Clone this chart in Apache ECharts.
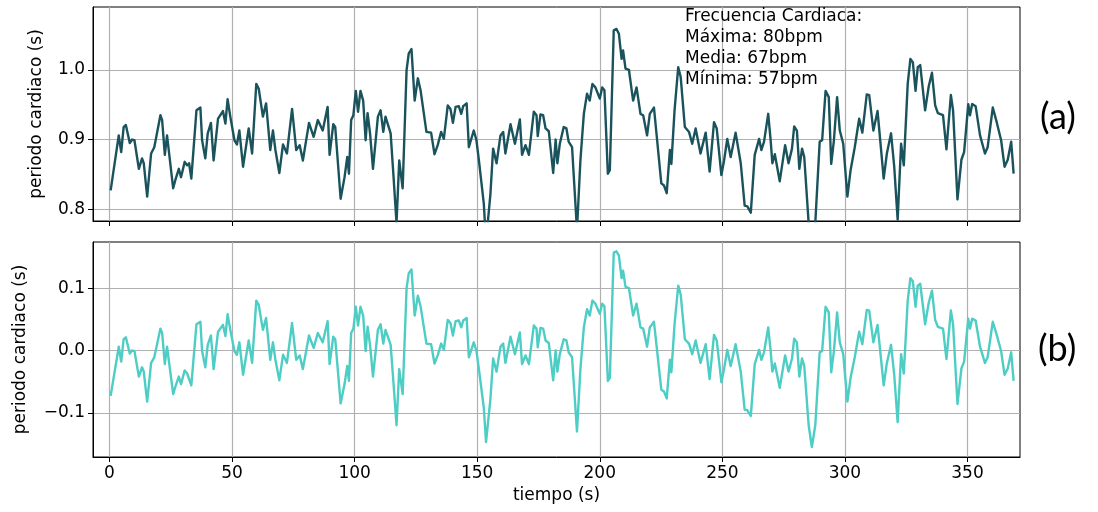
<!DOCTYPE html>
<html>
<head>
<meta charset="utf-8">
<script src="https://cdn.jsdelivr.net/npm/echarts@6/dist/echarts.min.js"></script>
<style>
  html, body { margin: 0; padding: 0; background: #fff; }
  #chart { width: 1098px; height: 512px; }
</style>
</head>
<body>
<div id="chart"></div>
<script>
// Tiempo de cada latido (s)
const tiempo = [
  0.5, 3.8, 4.8, 5.8, 6.7, 8.3, 9.2, 10.2, 12.0, 13.3, 14.0, 15.4, 16.0, 17.0, 18.3,
  20.8, 21.5, 22.6, 23.5, 24.2, 26.0, 26.9, 28.3, 29.2, 30.7, 31.7, 32.5, 33.4, 35.5,
  37.1, 37.8, 39.1, 40.1, 41.4, 42.5, 44.3, 46.3, 47.3, 48.2, 49.3, 51.0, 52.0, 53.0,
  54.5, 56.8, 58.2, 59.9, 60.9, 62.6, 63.9, 65.6, 66.7, 67.7, 69.3, 70.8, 72.4, 74.5,
  76.2, 77.6, 78.9, 81.4, 83.3, 85.0, 87.0, 89.0, 89.8, 91.3, 92.1, 94.3, 95.9, 97.0,
  97.7, 98.6, 99.5, 100.5, 101.4, 102.4, 103.5, 104.5, 105.3, 106.3, 107.5, 108.2,
  109.5, 110.6, 111.7, 112.6, 114.7, 115.8, 117.1, 118.2, 118.8, 119.6, 121.2, 122.1,
  123.2, 124.5, 125.8, 126.9, 129.3, 131.2, 132.6, 133.9, 135.3, 136.4, 138.0, 139.1,
  140.1, 141.2, 142.5, 143.5, 144.3, 145.7, 146.6, 148.6, 149.7, 150.7, 152.7, 153.6,
  155.4, 156.5, 157.9, 159.5, 160.6, 161.5, 163.6, 165.4, 167.4, 168.3, 169.7, 171.1,
  173.1, 174.2, 174.7, 175.8, 176.9, 177.9, 179.2, 181.0, 182.0, 182.7, 183.7, 185.3,
  186.4, 187.3, 188.7, 190.7, 192.1, 193.5, 194.8, 195.9, 197.0, 198.2, 200.0, 201.0,
  201.9, 203.3, 204.1, 205.7, 206.8, 207.8, 208.9, 209.5, 210.5, 211.9, 213.6, 215.0,
  216.6, 217.7, 219.3, 220.4, 222.1, 223.4, 225.1, 226.2, 227.3, 228.6, 229.2, 230.5,
  232.0, 233.0, 234.7, 236.4, 237.7, 239.1, 241.1, 243.2, 244.8, 246.6, 247.7, 249.6,
  250.7, 252.0, 253.4, 255.4, 257.5, 259.1, 260.2, 261.6, 263.2, 265.0, 265.9, 267.0,
  268.7, 269.7, 270.4, 271.4, 273.4, 275.6, 277.0, 278.4, 279.3, 280.4, 281.4, 282.5,
  283.4, 285.2, 286.5, 287.9, 289.7, 290.7, 292.1, 293.4, 294.4, 295.5, 296.8, 297.9,
  299.3, 301.0, 302.3, 304.0, 305.8, 307.1, 308.9, 309.9, 311.6, 313.3, 314.7, 315.8,
  317.1, 318.8, 320.1, 321.5, 322.9, 324.0, 325.6, 326.7, 327.7, 328.8, 329.7, 330.7,
  332.7, 334.2, 335.5, 336.8, 337.9, 340.0, 341.4, 343.2, 344.1, 345.9, 347.5, 348.6,
  350.3, 351.0, 351.9, 353.3, 355.1, 357.1, 358.2, 360.3, 361.9, 363.7, 365.1, 366.4,
  367.8, 368.8
];

// Periodo cardiaco de cada latido (s)
const periodo = [
  0.827, 0.906, 0.882, 0.918, 0.921, 0.895, 0.900, 0.899, 0.858, 0.873, 0.866, 0.818, 0.820, 0.880, 0.889,
  0.935, 0.928, 0.878, 0.906, 0.904, 0.830, 0.842, 0.858, 0.846, 0.868, 0.863, 0.866, 0.844, 0.942,
  0.946, 0.899, 0.873, 0.909, 0.924, 0.870, 0.930, 0.941, 0.923, 0.958, 0.933, 0.899, 0.893, 0.913,
  0.861, 0.916, 0.880, 0.980, 0.973, 0.933, 0.952, 0.885, 0.913, 0.885, 0.852, 0.893, 0.880, 0.944,
  0.885, 0.892, 0.870, 0.924, 0.904, 0.928, 0.913, 0.947, 0.878, 0.922, 0.918, 0.815, 0.846, 0.875,
  0.851, 0.928, 0.935, 0.970, 0.940, 0.970, 0.956, 0.899, 0.938, 0.909, 0.858, 0.856,
  0.933, 0.942, 0.911, 0.933, 0.909, 0.851, 0.780, 0.870, 0.871, 0.830, 1.000, 1.024,
  1.030, 0.956, 0.988, 0.971, 0.911, 0.910, 0.879, 0.892, 0.911, 0.901, 0.949, 0.944,
  0.924, 0.947, 0.948, 0.937, 0.948, 0.952, 0.889, 0.913, 0.899, 0.870, 0.808, 0.753,
  0.822, 0.887, 0.866, 0.906, 0.911, 0.880, 0.922, 0.894, 0.929, 0.878, 0.892, 0.878,
  0.940, 0.935, 0.905, 0.936, 0.935, 0.916, 0.912, 0.852, 0.900, 0.866, 0.894, 0.918,
  0.916, 0.897, 0.889, 0.770, 0.870, 0.937, 0.966, 0.956, 0.980, 0.975, 0.959, 0.975,
  0.971, 0.851, 0.856, 1.057, 1.059, 1.052, 1.016, 1.028, 1.002, 1.000, 0.956, 0.975,
  0.937, 0.935, 0.906, 0.937, 0.946, 0.899, 0.837, 0.834, 0.823, 0.885, 0.865, 0.942,
  1.004, 0.990, 0.918, 0.911, 0.894, 0.916, 0.880, 0.910, 0.854, 0.925, 0.916, 0.849,
  0.870, 0.901, 0.875, 0.910, 0.866, 0.805, 0.804, 0.795, 0.878, 0.901, 0.885, 0.897,
  0.937, 0.899, 0.866, 0.879, 0.840, 0.892, 0.866, 0.887, 0.919, 0.913, 0.858, 0.887,
  0.875, 0.780, 0.745, 0.780, 0.897, 0.899, 0.970, 0.961, 0.865, 0.899, 0.961, 0.913,
  0.894, 0.818, 0.856, 0.889, 0.930, 0.910, 0.965, 0.964, 0.913, 0.941, 0.887, 0.844,
  0.880, 0.909, 0.861, 0.785, 0.894, 0.863, 0.980, 1.016, 1.011, 0.970, 1.004, 1.007,
  0.942, 0.977, 0.996, 0.949, 0.938, 0.935, 0.886, 0.964, 0.942, 0.814, 0.871, 0.882,
  0.951, 0.935, 0.951, 0.948, 0.906, 0.880, 0.889, 0.946, 0.925, 0.899, 0.861, 0.871,
  0.897, 0.851
];

// Nivel de referencia restado en el panel inferior (s)
const periodoMedio = 0.90;

const ticksTiempo = [0, 50, 100, 150, 200, 250, 300, 350];
const ticksPeriodo = [0.8, 0.9, 1.0];
const ticksCentrado = [-0.1, 0.0, 0.1];
const resumen = ['Frecuencia Cardiaca:', 'Máxima: 80bpm', 'Media: 67bpm', 'Mínima: 57bpm'];
const etiquetasPanel = ['(a)', '(b)'];

const centrado = periodo.map(v => v - periodoMedio);

const FONT = 'DejaVu Sans';
const texto = { color: '#000', fontFamily: FONT, fontSize: 17 };
const rejilla = { show: true, lineStyle: { color: '#b0b0b0', width: 1.2 } };

function ejeX(idx, conEtiquetas) {
  return {
    type: 'value', gridIndex: idx, min: -6.7, max: 371.4,
    axisLine: { show: true, onZero: false, lineStyle: { color: '#000', width: 1 } },
    axisTick: { show: true, inside: false, length: 5, lineStyle: { color: '#000', width: 1 }, customValues: ticksTiempo },
    axisLabel: Object.assign({ show: conEtiquetas, customValues: ticksTiempo, margin: 8 }, texto),
    splitLine: rejilla,
    name: conEtiquetas ? 'tiempo (s)' : '',
    nameLocation: 'middle', nameGap: 30,
    nameTextStyle: texto
  };
}

function ejeY(idx, min, max, ticks, gap) {
  return {
    type: 'value', gridIndex: idx, min: min, max: max,
    axisLine: { show: true, onZero: false, lineStyle: { color: '#000', width: 1 } },
    axisTick: { show: true, inside: false, length: 5, lineStyle: { color: '#000', width: 1 }, customValues: ticks },
    axisLabel: Object.assign({
      customValues: ticks, margin: 8,
      formatter: v => v.toFixed(1).replace('-', '\u2212')
    }, texto),
    splitLine: rejilla,
    name: 'periodo cardiaco (s)',
    nameLocation: 'middle', nameGap: gap,
    nameTextStyle: texto
  };
}

const chart = echarts.init(document.getElementById('chart'), null, { renderer: 'canvas' });

chart.setOption({
  animation: false,
  backgroundColor: '#fff',
  grid: [
    { left: 93, width: 927, top: 7, height: 214, show: true, borderColor: '#000', borderWidth: 1, backgroundColor: 'transparent' },
    { left: 93, width: 927, top: 242, height: 215, show: true, borderColor: '#000', borderWidth: 1, backgroundColor: 'transparent' }
  ],
  xAxis: [ejeX(0, false), ejeX(1, true)],
  yAxis: [
    ejeY(0, 0.783, 1.0905, ticksPeriodo, 48),
    ejeY(1, -0.171, 0.174, ticksCentrado, 64)
  ],
  series: [
    {
      type: 'line', xAxisIndex: 0, yAxisIndex: 0,
      data: tiempo.map((t, i) => [t, periodo[i]]),
      showSymbol: false, clip: true,
      lineStyle: { color: '#1a535c', width: 2.4, join: 'round' },
      itemStyle: { color: '#1a535c' }
    },
    {
      type: 'line', xAxisIndex: 1, yAxisIndex: 1,
      data: tiempo.map((t, i) => [t, centrado[i]]),
      showSymbol: false, clip: true,
      lineStyle: { color: '#4ecdc4', width: 2.4, join: 'round' },
      itemStyle: { color: '#4ecdc4' }
    }
  ],
  graphic: [
    {
      type: 'text', left: 685, top: 6, z: 10,
      style: { text: resumen.join('\n'), fill: '#000', font: '17px "DejaVu Sans"', lineHeight: 21 }
    },
    {
      type: 'text', left: 1040, top: 99, z: 10,
      style: { text: etiquetasPanel[0], fill: '#000', font: '36px Lato' }
    },
    {
      type: 'text', left: 1038, top: 331, z: 10,
      style: { text: etiquetasPanel[1], fill: '#000', font: '36px Lato' }
    }
  ]
});
</script>
</body>
</html>
